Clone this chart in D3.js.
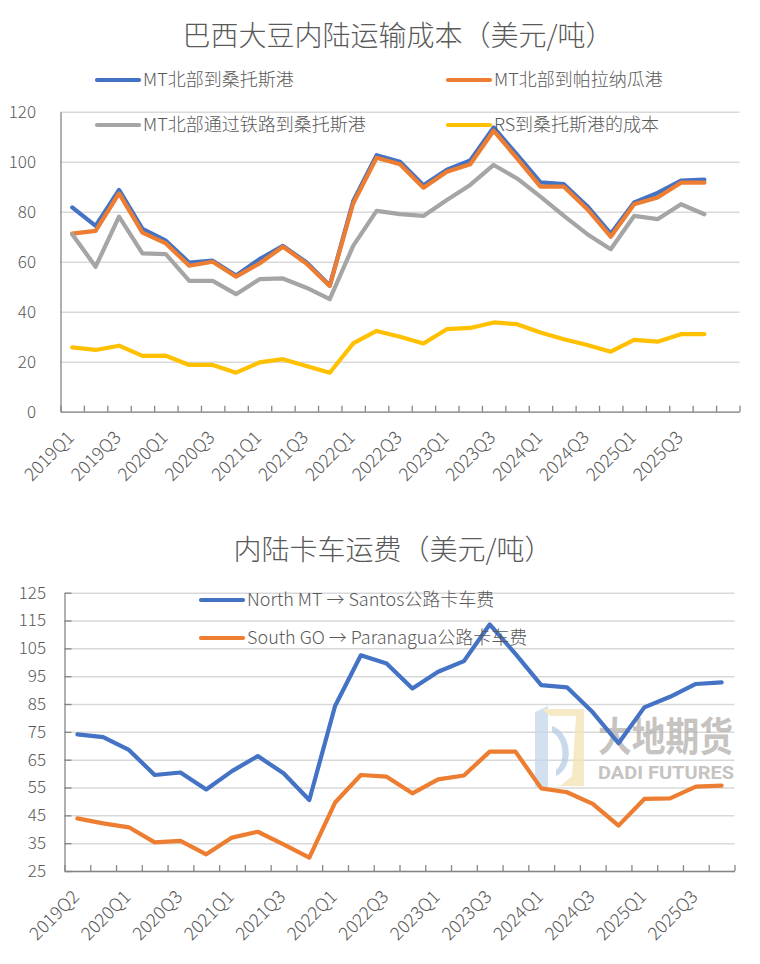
<!DOCTYPE html>
<html>
<head>
<meta charset="utf-8">
<script src="https://cdn.jsdelivr.net/npm/d3@7"></script>
<style>
  html, body { margin: 0; padding: 0; background: #fff; }
  svg { display: block; font-family: "Noto Sans CJK SC", "Noto Sans", sans-serif; }
</style>
</head>
<body>
<svg id="chart" width="760" height="964"></svg>
<script>
// ---- chart 1 data: 巴西大豆内陆运输成本 ----
const topQuarters = ["2019Q1","2019Q2","2019Q3","2019Q4","2020Q1","2020Q2","2020Q3","2020Q4",
  "2021Q1","2021Q2","2021Q3","2021Q4","2022Q1","2022Q2","2022Q3","2022Q4",
  "2023Q1","2023Q2","2023Q3","2023Q4","2024Q1","2024Q2","2024Q3","2024Q4",
  "2025Q1","2025Q2","2025Q3","2025Q4",""];
const mtSantos = [81.7, 74.3, 88.7, 73.1, 68.4, 59.6, 60.4, 54.5, 61.0, 66.3, 59.8, 50.5, 84.2, 102.6,
  100.0, 90.6, 96.8, 100.5, 113.7, 102.8, 91.7, 91.0, 82.2, 71.2, 83.7, 87.5, 92.4, 92.8];
const mtParanagua = [71.2, 72.3, 87.3, 71.6, 67.3, 58.4, 60.0, 54.0, 59.3, 66.0, 59.3, 50.3, 83.3, 101.6,
  99.0, 89.6, 96.0, 99.0, 112.4, 101.3, 90.0, 90.0, 81.0, 70.0, 83.0, 85.7, 91.6, 91.6];
const mtRail = [71.0, 58.0, 78.0, 63.3, 63.0, 52.3, 52.3, 47.0, 53.0, 53.3, 49.6, 45.0, 66.3, 80.3,
  79.0, 78.3, 84.7, 90.7, 98.7, 93.3, 86.0, 78.3, 71.0, 65.0, 78.3, 77.0, 83.0, 79.0];
const rsSantos = [25.7, 24.7, 26.4, 22.3, 22.4, 18.7, 18.7, 15.6, 19.7, 21.0, 18.3, 15.6, 27.3, 32.3,
  30.0, 27.3, 33.0, 33.5, 35.7, 35.0, 31.7, 29.0, 26.7, 24.0, 28.7, 28.0, 31.0, 31.0];
const topTicks = [0, 20, 40, 60, 80, 100, 120];
const topNames = ["MT北部到桑托斯港", "MT北部到帕拉纳瓜港", "MT北部通过铁路到桑托斯港", "RS到桑托斯港的成本"];

// ---- chart 2 data: 内陆卡车运费 ----
const truckQuarters = ["2019Q2","2019Q4","2020Q1","2020Q2","2020Q3","2020Q4","2021Q1","2021Q2",
  "2021Q3","2021Q4","2022Q1","2022Q2","2022Q3","2022Q4","2023Q1","2023Q2","2023Q3","2023Q4",
  "2024Q1","2024Q2","2024Q3","2024Q4","2025Q1","2025Q2","2025Q3","2025Q4"];
const northMT = [74.1, 73.1, 68.5, 59.5, 60.4, 54.3, 60.9, 66.3, 60.1, 50.5, 84.3, 102.5, 99.6,
  90.6, 96.6, 100.4, 113.6, 103.0, 91.8, 91.0, 82.0, 70.9, 83.8, 87.6, 92.2, 92.8];
const southGO = [43.9, 42.1, 40.7, 35.3, 35.8, 31.0, 37.0, 39.1, 34.6, 29.8, 49.6, 59.5, 58.9,
  52.9, 57.9, 59.3, 67.9, 67.9, 54.7, 53.3, 49.1, 41.3, 50.9, 51.1, 55.3, 55.7];
const truckTicks = [25, 35, 45, 55, 65, 75, 85, 95, 105, 115, 125];
const truckNames = ["North MT \u2192 Santos公路卡车费", "South GO \u2192 Paranagua公路卡车费"];

const colors = { blue: "#4472C4", orange: "#ED7D31", gray: "#A5A5A5", yellow: "#FFC000" };
const textColor = "#595959";
const gridColor = "#D9D9D9";
const axisColor = "#868686";

const svg = d3.select("#chart");

function drawChart(opt) {
  const g = svg.append("g");
  const x = d3.scaleBand().domain(opt.cats.map((c, i) => i)).range([opt.left, opt.right]).padding(0);
  const xEdge = d3.scaleLinear().domain([0, opt.cats.length]).range([opt.left, opt.right]);
  const y = d3.scaleLinear().domain(opt.yDomain).range([opt.bottom, opt.top]);

  // title
  g.append("text")
    .attr("x", opt.titleX).attr("y", opt.titleY)
    .attr("text-anchor", "middle")
    .attr("font-size", 28)
    .attr("font-weight", 300)
    .attr("fill", textColor)
    .text(opt.title);

  // gridlines
  g.append("g")
    .attr("transform", `translate(${opt.left},0)`)
    .call(d3.axisLeft(y).tickValues(opt.ticks).tickSize(-(opt.right - opt.left)).tickFormat(""))
    .call(s => s.select(".domain").remove())
    .call(s => s.selectAll("line").attr("stroke", gridColor).attr("stroke-width", 1.5));

  // y labels
  g.append("g")
    .attr("transform", `translate(${opt.yLabelX},0)`)
    .call(d3.axisLeft(y).tickValues(opt.ticks).tickSize(0).tickPadding(0))
    .call(s => s.select(".domain").remove())
    .call(s => s.selectAll("text")
      .attr("font-family", "\"Noto Sans CJK SC\", sans-serif")
      .attr("font-weight", 300)
      .attr("font-size", 17).attr("fill", textColor));

  // y axis line (+ inner ticks for chart 2)
  g.append("g")
    .attr("transform", `translate(${opt.left},0)`)
    .call(d3.axisRight(y).tickValues(opt.ticks).tickSize(opt.yTickIn).tickFormat("").tickSizeOuter(0))
    .call(s => s.select(".domain").attr("stroke", axisColor).attr("stroke-width", 1.3))
    .call(s => s.selectAll("line").attr("stroke", axisColor).attr("stroke-width", 1.3));

  // x axis with inward ticks at category edges
  g.append("g")
    .attr("transform", `translate(0,${opt.bottom})`)
    .call(d3.axisTop(xEdge).tickValues(d3.range(opt.cats.length + 1))
      .tickSize(6).tickSizeOuter(0).tickFormat(""))
    .call(s => s.select(".domain").attr("stroke", axisColor).attr("stroke-width", 1.3))
    .call(s => s.selectAll("line").attr("stroke", axisColor).attr("stroke-width", 1.3));

  // x labels, every second category, rotated
  const labelled = opt.cats.map((c, i) => i).filter(i => i % 2 === 0 && opt.cats[i] !== "");
  g.append("g")
    .selectAll("text")
    .data(labelled)
    .join("text")
    .attr("transform", i => `translate(${x(i) + x.bandwidth() / 2 + 3},${opt.bottom + 27}) rotate(-45)`)
    .attr("text-anchor", "end")
    .attr("font-size", 18)
    .attr("font-weight", 300)
    .attr("fill", textColor)
    .text(i => opt.cats[i]);

  if (opt.before) opt.before(g);

  // lines
  const line = d3.line()
    .x((d, i) => x(i) + x.bandwidth() / 2)
    .y(d => y(d));
  g.append("g")
    .selectAll("path")
    .data(opt.series)
    .join("path")
    .attr("d", s => line(s.values))
    .attr("fill", "none")
    .attr("stroke", s => s.color)
    .attr("stroke-width", 4.2)
    .attr("stroke-linejoin", "round")
    .attr("stroke-linecap", "round");

  // legend
  const lg = g.append("g")
    .selectAll("g")
    .data(opt.series)
    .join("g")
    .attr("transform", (s, i) => `translate(${opt.legendPos[i][0]},${opt.legendPos[i][1]})`);
  lg.append("line")
    .attr("x1", 0).attr("x2", opt.legendLen)
    .attr("stroke", s => s.color)
    .attr("stroke-width", 4.2)
    .attr("stroke-linecap", "round");
  lg.append("text")
    .attr("x", opt.legendLen + 4)
    .attr("dy", "0.35em")
    .attr("font-size", 18)
    .attr("font-weight", 300)
    .attr("fill", textColor)
    .text(s => s.name);
}

drawChart({
  title: "巴西大豆内陆运输成本（美元/吨）",
  titleX: 398, titleY: 46,
  cats: topQuarters,
  left: 60.5, right: 739.5, top: 111.7, bottom: 411.7,
  yDomain: [0, 120], ticks: topTicks, yLabelX: 36, yTickIn: 0,
  series: [
    { name: topNames[0], color: colors.blue, values: mtSantos },
    { name: topNames[1], color: colors.orange, values: mtParanagua },
    { name: topNames[2], color: colors.gray, values: mtRail },
    { name: topNames[3], color: colors.yellow, values: rsSantos }
  ],
  legendPos: [[97, 80], [448, 80], [97, 125], [448, 125]],
  legendLen: 42
});

drawChart({
  title: "内陆卡车运费（美元/吨）",
  titleX: 393, titleY: 560,
  cats: truckQuarters,
  left: 64.5, right: 734.5, top: 592.7, bottom: 871,
  yDomain: [25, 125], ticks: truckTicks, yLabelX: 46, yTickIn: 7,
  series: [
    { name: truckNames[0], color: colors.blue, values: northMT },
    { name: truckNames[1], color: colors.orange, values: southGO }
  ],
  legendPos: [[201, 600], [201, 638]],
  legendLen: 42,
  before: function (g) {
    // watermark: 大地期货 DADI FUTURES
    const wm = g.append("g").attr("opacity", 0.75);
    wm.append("path")
      .attr("d", "M535,712 L548,706 L548,787 L535,787 Z")
      .attr("fill", "#c5d6ea");
    wm.append("path")
      .attr("d", "M542,709 L584,709 L584,786 L560,786 L572,776 L576,716 L550,716 Z")
      .attr("fill", "#f3e4b4");
    wm.append("path")
      .attr("d", "M552,726 C572,732 575,768 556,776 L556,770 C566,762 564,738 552,732 Z")
      .attr("fill", "#b7cde6");
    wm.append("text")
      .attr("x", 598).attr("y", 751)
      .attr("font-size", 40).attr("font-weight", "bold")
      .attr("textLength", 135).attr("lengthAdjust", "spacingAndGlyphs")
      .attr("fill", "#b3b0ad")
      .text("大地期货");
    wm.append("text")
      .attr("x", 598).attr("y", 779)
      .attr("font-size", 18).attr("font-weight", "bold")
      .attr("font-family", "Roboto, \"Noto Sans\", sans-serif")
      .attr("textLength", 136).attr("lengthAdjust", "spacingAndGlyphs")
      .attr("fill", "#b3b0ad")
      .text("DADI FUTURES");
  }
});
</script>
</body>
</html>
